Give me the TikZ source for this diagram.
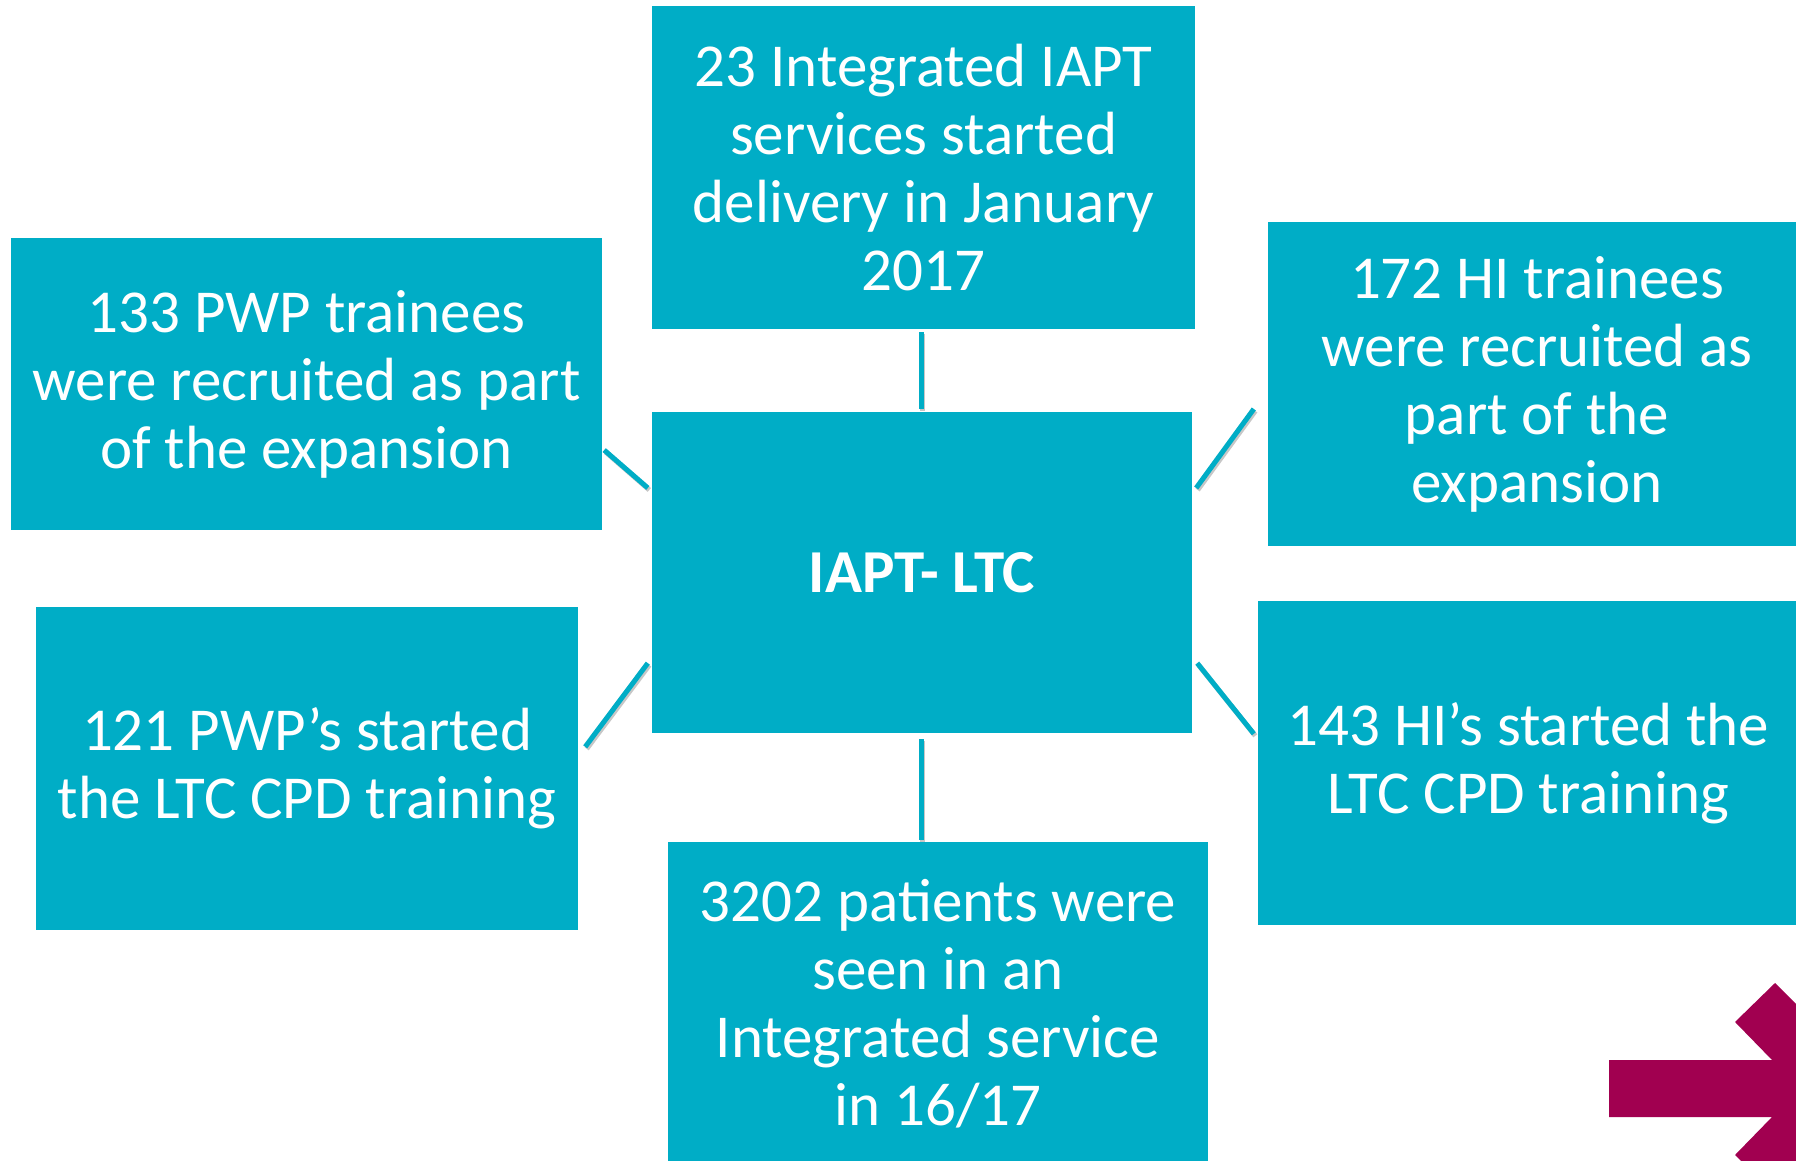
\documentclass[tikz,border=0pt]{standalone}
\usepackage{fontspec}
\setmainfont{Carlito}
\usetikzlibrary{calc}
\definecolor{teal1}{RGB}{0,173,198}
\definecolor{plum}{RGB}{161,0,80}
\tikzset{
  infobox/.style={fill=teal1, draw=none, text=white, align=center, inner sep=0pt,
    font=\fontsize{61}{68}\selectfont},
  link/.style={draw=teal1, line width=5pt},
  linkshadow/.style={draw=black!22, line width=5pt, transform canvas={shift={(1.5pt,-2pt)}}}
}
\begin{document}
\begin{tikzpicture}[x=1pt,y=1pt]
\useasboundingbox (0,0) rectangle (1796,1160);
\clip (0,0) rectangle (1796,1160);
% boxes
\node[infobox, minimum width=543pt, minimum height=323pt] (top) at (923.5,992.5)
  {23 Integrated IAPT\\services started\\delivery in January\\2017};
\node[infobox, minimum width=540pt, minimum height=321pt, font=\fontsize{61}{68}\selectfont\bfseries] (ce) at (922,587.5)
  {IAPT- LTC};
\node[infobox, minimum width=591pt, minimum height=292pt] (lt) at (306.5,776)
  {133 PWP trainees\\were recruited as part\\of the expansion};
\node[infobox, minimum width=538pt, minimum height=324pt] (rt) at (1537,776)
  {172 HI trainees\\were recruited as\\part of the\\expansion};
\node[infobox, minimum width=542pt, minimum height=323pt] (lb) at (307,391.5)
  {121 PWP’s started\\the LTC CPD training};
\node[infobox, minimum width=541pt, minimum height=324pt] (rb) at (1528.5,397)
  {143 HI’s started the\\LTC CPD training};
\node[infobox, minimum width=540pt, minimum height=323pt] (bo) at (938,156.5)
  {3202 patients were\\seen in an\\Integrated service\\in 16/17};
% connector end points
\coordinate (c1) at ([yshift=-3pt]top.south -| 921,0);
\coordinate (c2) at ([yshift=3pt]ce.north -| 921,0);
\coordinate (c3) at ([yshift=-6pt]ce.south -| 921,0);
\coordinate (c4) at ([yshift=2pt]bo.north -| 921,0);
\coordinate (l1) at ([xshift=2pt]$(lt.north east)!0.726!(lt.south east)$);
\coordinate (l2) at ([xshift=-4pt]$(ce.north west)!0.237!(ce.south west)$);
\coordinate (r1) at ([xshift=4pt]$(ce.north east)!0.237!(ce.south east)$);
\coordinate (r2) at ([xshift=-14pt]$(rt.north west)!0.577!(rt.south west)$);
\coordinate (l3) at ([xshift=7pt]$(lb.north east)!0.433!(lb.south east)$);
\coordinate (l4) at ([xshift=-4pt]$(ce.north west)!0.782!(ce.south west)$);
\coordinate (r3) at ([xshift=5pt]$(ce.north east)!0.782!(ce.south east)$);
\coordinate (r4) at ([xshift=-4pt]$(rb.north west)!0.41!(rb.south west)$);
% shadows
\foreach \a/\b in {c1/c2,c3/c4,l1/l2,r1/r2,l3/l4,r3/r4}
  \draw[linkshadow] (\a) -- (\b);
% connectors
\draw[link] (top) ++(0,0) (c1) -- (c2);
\draw[link] (c3) -- (c4);
\draw[link] (l1) -- (l2);
\draw[link] (r1) -- (r2);
\draw[link] (l3) -- (l4);
\draw[link] (r3) -- (r4);
% arrow
\fill[plum] (1609,100) -- (1772,100) -- (1735,138) -- (1775,177) -- (1880.5,71.5)
  -- (1775,-34) -- (1735,5) -- (1772,43) -- (1609,43) -- cycle;
\end{tikzpicture}
\end{document}
